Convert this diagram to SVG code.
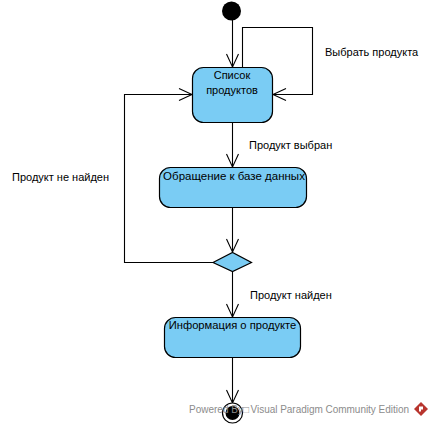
<svg xmlns="http://www.w3.org/2000/svg" width="433" height="426" viewBox="0 0 433 426">
<defs>
<style>
text{font-family:"Liberation Sans",Arial,sans-serif;font-size:11px;fill:#000}
.l{fill:none;stroke:#000;stroke-width:1.100}
.n{fill:#7accf4;stroke:#000;stroke-width:1.200}
.a{fill:none;stroke:#000;stroke-width:1.100}
</style>
<marker id="o" markerUnits="userSpaceOnUse" markerWidth="16" markerHeight="16" refX="14" refY="8" orient="auto" overflow="visible"><path class="a" d="M1 2L14 8L1 14"/></marker>
</defs>
<rect width="433" height="426" fill="#fff"/>
<g id="connectors">
<path class="l" marker-end="url(#o)" d="M232.500 20V67"/>
<path class="l" marker-end="url(#o)" d="M242.500 67V27.500H312.500V94.500H273"/>
<path class="l" marker-end="url(#o)" d="M232.500 122V167"/>
<path class="l" marker-end="url(#o)" d="M232.500 207V252"/>
<path class="l" marker-end="url(#o)" d="M213 262.500H124.500V94.500H192"/>
<path class="l" marker-end="url(#o)" d="M232.500 271V317"/>
<path class="l" marker-end="url(#o)" d="M232.500 357V403"/>
</g>
<g id="start"><circle cx="231.500" cy="11" r="9.500" fill="#000"/></g>
<g id="list"><rect class="n" x="192.500" y="67.500" width="80" height="55" rx="11"/><text x="232" y="79" text-anchor="middle">Список</text><text x="232" y="94" text-anchor="middle">продуктов</text></g>
<g id="db"><rect class="n" x="159.500" y="167.500" width="147" height="40" rx="11"/><text x="234" y="180" text-anchor="middle" style="font-size:11.500px">Обращение к базе данных</text></g>
<g id="decision"><polygon class="n" points="213,262.500 232.500,252.500 251.500,262.500 232.500,271.500"/></g>
<g id="info"><rect class="n" x="164.500" y="317.500" width="136" height="40" rx="11"/><text x="232.500" y="329" text-anchor="middle" style="font-size:11.200px">Информация о продукте</text></g>
<g id="end"><circle cx="232.500" cy="413" r="10" fill="#fff" stroke="#000" stroke-width="1.200"/><circle cx="232.500" cy="413" r="7" fill="#000"/></g>
<g id="labels">
<text x="325" y="56">Выбрать продукта</text>
<text x="249" y="149">Продукт выбран</text>
<text x="12" y="181">Продукт не найден</text>
<text x="250" y="299">Продукт найден</text>
</g>
<g id="watermark">
<text x="189" y="413" style="font-size:10px;fill:#8c8c8c">Powered By□<tspan x="250.500" textLength="158.500" lengthAdjust="spacing">Visual Paradigm Community Edition</tspan></text>
<path d="M421 402L428 409L421 416L414 409Z" fill="#b8352e"/><path d="M419 406.500h4v3h-2v2h-2z" fill="#fff"/>
</g>
</svg>
